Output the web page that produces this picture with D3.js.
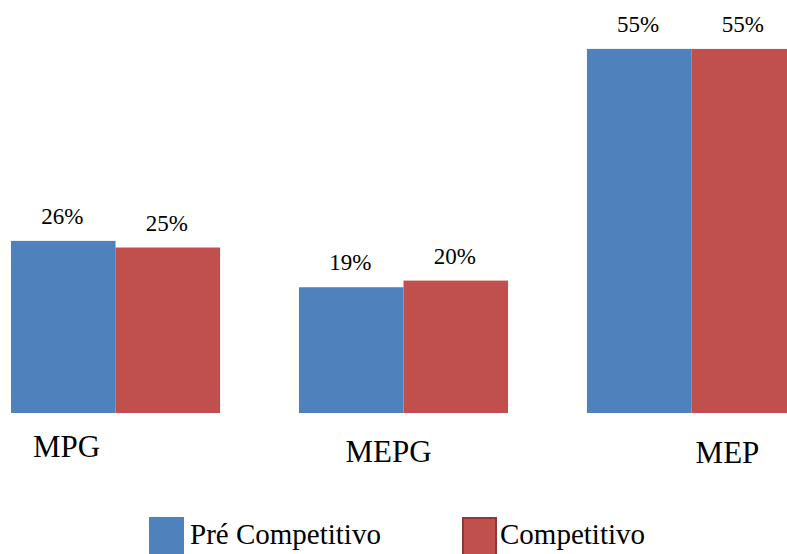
<!DOCTYPE html>
<html>
<head>
<meta charset="utf-8">
<script src="https://cdn.jsdelivr.net/npm/d3@7"></script>
<style>
  html, body { margin: 0; padding: 0; background: #fff; }
  svg { display: block; }
</style>
</head>
<body>
<script>
// ---- data ----
const categories = ["MPG", "MEPG", "MEP"];
const seriesNames = ["Pré Competitivo", "Competitivo"];
const preCompetitivo = [26, 19, 55];
const competitivo = [25, 20, 55];
const valueLabels = [["26%", "25%"], ["19%", "20%"], ["55%", "55%"]];

// ---- layout / style ----
const W = 787, H = 554;
const FONT = "'Liberation Serif', 'Times New Roman', Times, serif";
const colors = ["#4f81bd", "#c0504d"];
const catLabelDx = [-49, -15, 36];     // label offsets from group centre
const catLabelY = [457, 462, 463];

const svg = d3.select("body").append("svg").attr("width", W).attr("height", H)
  .style("font-family", FONT);

const x0 = d3.scaleBand().domain(categories).range([11, 796]).paddingInner(0.274).paddingOuter(0);
const x1 = d3.scaleBand().domain(seriesNames).range([0, x0.bandwidth()]).padding(0);
const y = d3.scaleLinear().domain([0, 60]).range([413, 413 - 60 * 6.62]);

const rows = categories.map((c, i) => ({
  cat: c,
  vals: [preCompetitivo[i], competitivo[i]],
  labels: valueLabels[i]
}));

const g = svg.selectAll("g.grp").data(rows).join("g")
  .attr("class", "grp")
  .attr("transform", d => `translate(${x0(d.cat)},0)`);

g.selectAll("rect").data(d => d.vals.map((v, j) => ({ s: seriesNames[j], v, j })))
  .join("rect")
  .attr("x", d => x1(d.s))
  .attr("y", d => y(d.v))
  .attr("width", x1.bandwidth())
  .attr("height", d => y(0) - y(d.v))
  .attr("fill", d => colors[d.j]);

g.selectAll("text.val").data(d => d.vals.map((v, j) => ({ s: seriesNames[j], v, t: d.labels[j] })))
  .join("text")
  .attr("class", "val")
  .attr("x", d => x1(d.s) + x1.bandwidth() / 2 - 1)
  .attr("y", d => y(d.v) - 17)
  .attr("text-anchor", "middle")
  .style("font-family", FONT)
  .attr("font-size", 23)
  .attr("fill", "#000")
  .text(d => d.t);

// category labels
svg.selectAll("text.cat").data(categories).join("text")
  .attr("class", "cat")
  .attr("x", (d, i) => x0(d) + x0.bandwidth() / 2 + catLabelDx[i])
  .attr("y", (d, i) => catLabelY[i])
  .attr("text-anchor", "middle")
  .style("font-family", FONT)
  .attr("font-size", 31)
  .attr("fill", "#000")
  .text(d => d);

// legend
const legX = [149, 462];
const leg = svg.selectAll("g.leg").data(seriesNames).join("g")
  .attr("class", "leg")
  .attr("transform", (d, i) => `translate(${legX[i]},517)`);
leg.append("rect")
  .attr("x", (d, i) => i === 1 ? 1 : 0)
  .attr("y", (d, i) => i === 1 ? 1 : 0)
  .attr("width", (d, i) => i === 1 ? 33 : 35)
  .attr("height", 45)
  .attr("fill", (d, i) => colors[i])
  .attr("stroke", (d, i) => i === 1 ? "#8c3836" : "none")
  .attr("stroke-width", 2);
leg.append("text")
  .attr("x", (d, i) => i === 1 ? 38 : 41)
  .attr("y", 27)
  .style("font-family", FONT)
  .attr("font-size", 29)
  .attr("fill", "#000")
  .text(d => d);
</script>
</body>
</html>
